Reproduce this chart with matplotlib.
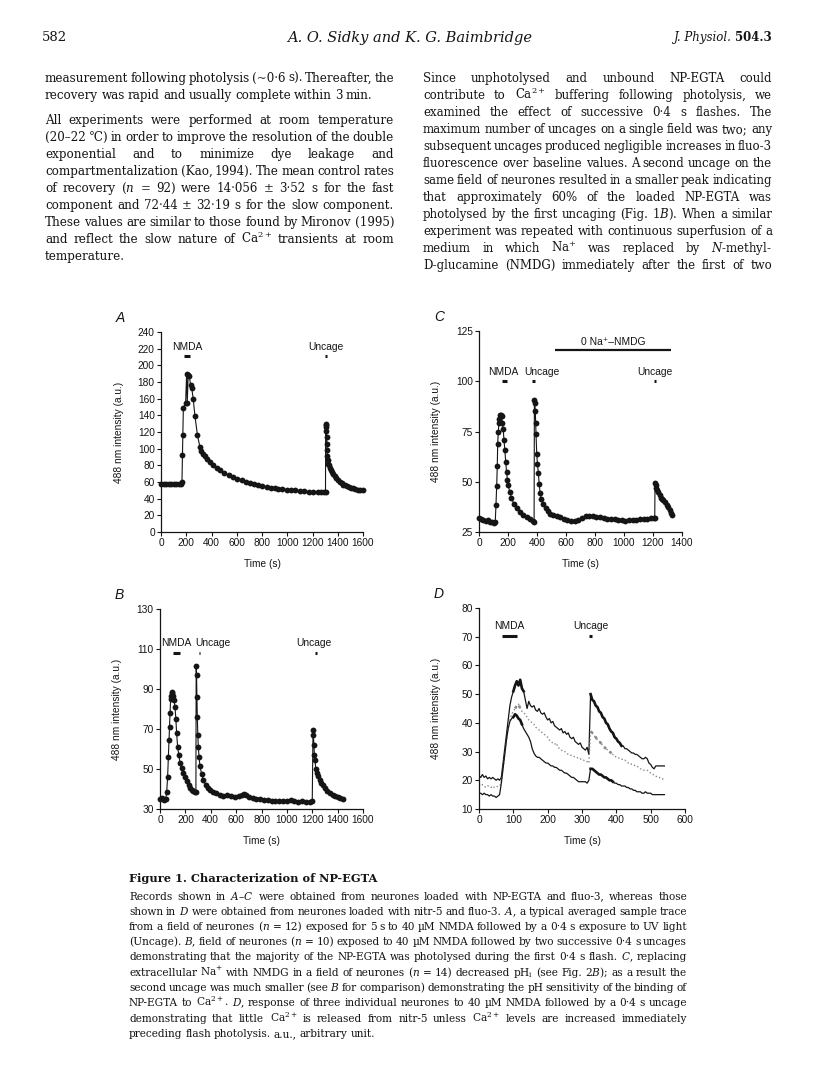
import matplotlib
matplotlib.use('Agg')
import matplotlib.pyplot as plt
import numpy as np

plt.rcParams['mathtext.fontset'] = 'dejavuserif'

W, H = 816, 1088
INK = '#151515'
SANS = ['Liberation Sans', 'DejaVu Sans']
SERIF = ['DejaVu Serif']

# ---- panel A: averaged trace, NP-EGTA ----
a_t = [0, 20, 40, 60, 80, 100, 120, 140, 155, 166, 170, 173, 177, 195, 203, 208, 215, 224,
       235, 243, 255, 269, 288, 308, 320, 335, 348, 361, 387, 414, 440, 466, 500, 536, 572,
       605, 638, 671, 704, 737, 770, 803, 836, 870, 900, 930, 960, 995, 1030, 1065, 1100,
       1135, 1170, 1205, 1240, 1270, 1295, 1303, 1304, 1306, 1308, 1310, 1312, 1314, 1316,
       1318, 1320, 1325, 1330, 1337, 1345, 1355, 1364, 1377, 1390, 1403, 1416, 1430, 1445,
       1460, 1475, 1490, 1505, 1522, 1540, 1560, 1580, 1598]
a_v = [58, 58, 58, 58, 58, 58, 58, 58, 58, 60, 93, 117, 149, 155, 190, 155, 188, 187,
       176, 173, 160, 139, 117, 102, 97, 94, 91, 88, 84, 80, 77, 75, 71, 68, 66,
       64, 62, 60.5, 59, 57.5, 56, 55, 54, 53, 52.5, 52, 51.5, 51, 50.5, 50, 49.5,
       49, 48.5, 48, 48, 48, 48, 48, 130, 129, 126, 121, 114, 106, 98,
       91, 86, 82, 80, 77, 75, 72.5, 70, 67, 65, 62, 60, 58.5, 57,
       56, 55, 54, 53, 52.4, 51.5, 51, 50.8, 50.5]

# ---- panel B: two successive uncages ----
b_t = [0, 15, 30, 45, 53, 60, 66, 71, 75, 79, 84, 88, 92, 97, 103, 110, 118, 125, 131, 139,
       148, 158, 170, 184, 197, 210, 225, 238, 250, 263, 276, 283, 285, 288, 291, 294, 298,
       302, 308, 315, 328, 341, 360, 378, 394, 420, 445, 473, 500, 530, 560, 590, 620, 645,
       660, 675, 700, 730, 760, 790, 820, 850, 880, 910, 940, 970, 1000, 1030, 1060, 1090,
       1120, 1150, 1180, 1200, 1206, 1209, 1213, 1217, 1221, 1228, 1236, 1247, 1258, 1272,
       1287, 1300, 1320, 1340, 1360, 1380, 1400, 1420, 1440]
b_v = [35, 35.5, 34.5, 35, 38.7, 46, 56, 64.5, 71, 78, 85, 86.5, 88.5, 88, 86.5, 84.5, 81, 75, 68, 61,
       57, 53, 50.5, 48, 46, 44, 42, 40.5, 39.5, 39, 38.5, 38.5, 101.5, 97, 86, 76, 67,
       61, 56, 51.3, 47.5, 44.6, 42, 40.5, 39.6, 38.5, 37.8, 37.2, 36.5, 37, 36.5, 36, 36.5, 37,
       37.5, 37, 36, 35.5, 35, 35, 34.5, 34.5, 34, 34, 34, 34, 34, 34.5, 34, 33.5,
       34, 33.5, 33.5, 34, 69.6, 67, 62, 57, 54.6, 50, 48, 46.3, 44.5, 43,
       42.1, 40.5, 39, 38, 37, 36.5, 36, 35.5, 35]

# ---- panel C: 0 Na+ (NMDG) ----
c_t = [0, 15, 30, 45, 60, 75, 90, 105, 112, 117, 122, 126, 129, 133, 137, 140, 145, 150, 156,
       161, 167, 172, 178, 184, 190, 196, 201, 212, 224, 240, 259, 280, 305, 330, 351, 374,
       380, 382, 385, 388, 391, 393, 398, 403, 409, 415, 421, 430, 444, 460, 475, 490, 510,
       535, 559, 585, 610, 635, 660, 685, 710, 735, 760, 785, 810, 835, 860, 885, 910, 935,
       960, 985, 1010, 1035, 1060, 1085, 1110, 1135, 1160, 1185, 1205, 1212, 1214, 1218,
       1224, 1230, 1237, 1245, 1255, 1265, 1272, 1283, 1295, 1305, 1318, 1325, 1330]
c_v = [32, 31.5, 31, 30.5, 31, 30, 30, 29.5, 30, 38.4, 48, 58, 69, 74.7, 79, 81, 83, 83, 82.5,
       79, 76, 71, 66, 60, 55, 51, 48.5, 45, 41.9, 39, 37, 35, 33.3, 32.3, 31.6, 30.7,
       30, 90.7, 89, 85, 79, 74, 64, 59, 54.5, 49, 44.5, 41.5, 39, 37, 35.5, 34, 33.3,
       32.8, 32.4, 31.5, 31, 30.5, 30.5, 31, 32, 33, 33.2, 33, 32.7, 32.3, 32, 31.7, 31.5, 31.3,
       31, 30.8, 30.7, 30.8, 31, 31.2, 31.3, 31.5, 31.6, 31.8, 32, 32, 49.5, 48.5,
       47, 46, 45, 43.5, 42, 41.3, 41, 40, 38.5, 37.5, 36, 34.5, 33.5]

# ---- panel D: three single neurones, nitr-5 (5 s samples, 0-540 s) ----
d_t = np.arange(0, 541, 5)
d_top = [21.5, 21, 22, 21, 21.5, 20.5, 21, 20.5, 21, 20.5, 20, 20.5, 20,
         21, 26, 31, 36, 41, 46, 49, 51, 53, 54.5, 53, 55, 52, 51, 48, 45, 47.5, 46, 45.5, 46,
         44.5, 44, 45, 43.5, 43, 43.5, 42, 41, 41.5, 40, 40.5, 39, 38.5, 38, 37.5, 38, 36.5, 37,
         36, 36.5, 35, 34.5, 35, 33.5, 33, 32.5, 33, 31.5, 31, 30.5, 31.5, 29,
         50, 48, 47.5, 46, 45.5, 44, 43.5, 42, 41.5, 40, 39.5, 38, 37, 36.5, 35, 34.5, 33.5, 33,
         32, 32, 31, 31, 30.5, 30, 29.5, 29.5, 29, 29, 28.5, 28, 27.5, 27.5, 28, 27.5, 26, 25.5,
         24.5, 24, 25, 25, 25, 25, 25, 25]
d_mid = [18.5, 18, 18.5, 18, 17.5, 18, 18, 17.5, 18, 17.5, 17.5, 18, 18,
         19, 24, 29, 34, 38, 41, 43, 44, 45, 46, 46.5, 45, 44, 43.5, 43, 42, 41, 40.5, 40, 39.5,
         38.5, 38, 37.5, 37, 36.5, 36, 35.5, 35, 34, 33.5, 33, 32.5, 33, 31.5, 31, 30.5, 30, 30,
         29.5, 29, 29, 28.5, 28.5, 28, 28, 27.5, 27.5, 27, 27, 26.5, 26.5, 26,
         37, 36.5, 35.5, 35, 34, 33.5, 33, 32, 31.5, 31, 30.5, 30, 29.5, 29, 28.5, 28, 28, 27.5,
         27.5, 27, 27, 26.5, 26, 26, 25.5, 25.5, 25, 25, 24.5, 24, 24, 23.5, 23.5, 23.5, 23, 22.5,
         22, 22, 21.5, 21, 21, 20.5, 20.5, 20]
d_low = [15.5, 15.5, 15, 15.5, 15, 15, 14.5, 15, 14.5, 14.5, 14, 14.5, 15,
         19, 24, 29, 34, 38, 40.5, 41.5, 42, 43, 42.5, 41.5, 41, 39.5, 38, 37, 36, 35, 33.5, 31, 29.5,
         28.5, 28, 28, 27.5, 27, 26.5, 26, 26, 25.5, 25, 25, 24.5, 24.5, 24, 23.5, 23.5, 23, 22.5,
         22.5, 22, 21.5, 21, 21, 20.5, 20, 19.5, 19.5, 19.5, 19.5, 19.5, 19, 20,
         24, 24, 23.5, 23, 22.5, 22, 22, 21.5, 21, 21, 20.5, 20, 20, 19.5, 19, 19, 18.5, 18.5,
         18, 18, 18, 17.5, 17.5, 17, 17, 16.5, 16.5, 16, 16, 16, 15.5, 15.5, 16, 15.5, 15.5, 15.5,
         15, 15, 15, 15, 15, 15, 15, 15]
d_thick = [(0, 100, 130), (0, 325, 415), (1, 105, 125), (1, 325, 390), (2, 100, 125), (2, 325, 390)]

fig = plt.figure(figsize=(W / 100, H / 100), dpi=100)
fig.patch.set_facecolor('white')
renderer = fig.canvas.get_renderer()


def fx(x):
    return x / W


def fy(y):
    return 1 - y / H


def word_widths(words, size):
    objs = [fig.text(0, 0, w, fontsize=size, va='baseline', ha='left', color=INK,
                     family=SERIF) for w in words]
    widths = [o.get_window_extent(renderer).width for o in objs]
    return objs, widths


def text_block(lines, x0, x1, size_max):
    """justified block: one font size for the block, words spread to fill x0..x1"""
    size = size_max
    for txt, just, _ in lines:
        if not just:
            continue
        words = txt.split(' ')
        objs, widths = word_widths(words, size_max)
        for o in objs:
            o.remove()
        need = sum(widths) + (len(words) - 1) * size_max * 100 / 72 * 0.2
        size = min(size, size_max * (x1 - x0) / need)
    for txt, just, y in lines:
        words = txt.split(' ')
        objs, widths = word_widths(words, size)
        gap = size * 100 / 72 * 0.27
        if just and len(words) > 1:
            gap = (x1 - x0 - sum(widths)) / (len(words) - 1)
        x = x0
        for o, w in zip(objs, widths):
            o.set_position((fx(x), fy(y)))
            x += w + gap


# ---- page header ----
fig.text(fx(42), fy(41), '582', fontsize=9.5, color=INK, family=SERIF, va='baseline')
fig.text(fx(410), fy(42), 'A. O. Sidky and K. G. Baimbridge', fontsize=10.5, color=INK,
         family=SERIF, style='italic', ha='center', va='baseline')
t_vol = fig.text(fx(772), fy(41), '504.3', fontsize=8.5, color=INK, family=SERIF,
                 weight='bold', ha='right', va='baseline')
wv = t_vol.get_window_extent(renderer).width
fig.text(fx(772 - wv - 3), fy(41), 'J. Physiol.', fontsize=8.5, color=INK, family=SERIF,
         style='italic', ha='right', va='baseline')

# ---- body text ----
left_col = [
    ('measurement following photolysis (~0·6 s). Thereafter, the', True, 78),
    ('recovery was rapid and usually complete within 3 min.', False, 95),
    ('All experiments were performed at room temperature', True, 120),
    ('(20–22 °C) in order to improve the resolution of the double', True, 137),
    ('exponential and to minimize dye leakage and', True, 154),
    ('compartmentalization (Kao, 1994). The mean control rates', True, 171),
    (r'of recovery ($\mathit{n}$ = 92) were 14·056 ± 3·52 s for the fast', True, 188),
    ('component and 72·44 ± 32·19 s for the slow component.', True, 205),
    ('These values are similar to those found by Mironov (1995)', True, 222),
    (r'and reflect the slow nature of Ca$^{2+}$ transients at room', True, 239),
    ('temperature.', False, 256),
]
right_col = [
    ('Since unphotolysed and unbound NP-EGTA could', True, 78),
    (r'contribute to Ca$^{2+}$ buffering following photolysis, we', True, 95),
    ('examined the effect of successive 0·4 s flashes. The', True, 112),
    ('maximum number of uncages on a single field was two; any', True, 129),
    ('subsequent uncages produced negligible increases in fluo-3', True, 146),
    ('fluorescence over baseline values. A second uncage on the', True, 163),
    ('same field of neurones resulted in a smaller peak indicating', True, 180),
    ('that approximately 60% of the loaded NP-EGTA was', True, 197),
    (r'photolysed by the first uncaging (Fig. 1$\mathit{B}$). When a similar', True, 214),
    ('experiment was repeated with continuous superfusion of a', True, 231),
    (r'medium in which Na$^{+}$ was replaced by $\mathit{N}$-methyl-', True, 248),
    ('D-glucamine (NMDG) immediately after the first of two', True, 265),
]
body = [(t, j, y + 4) for t, j, y in left_col]
text_block(body, 45, 394, 8.6)
body = [(t, j, y + 4) for t, j, y in right_col]
text_block(body, 423, 772, 8.6)

# ---- caption ----
fig.text(fx(129), fy(882), 'Figure 1. Characterization of NP-EGTA', fontsize=8.2,
         weight='bold', color=INK, family=SERIF, va='baseline')
caption = [
    (r'Records shown in $\mathit{A}$–$\mathit{C}$ were obtained from neurones loaded with NP-EGTA and fluo-3, whereas those', True),
    (r'shown in $\mathit{D}$ were obtained from neurones loaded with nitr-5 and fluo-3. $\mathit{A}$, a typical averaged sample trace', True),
    (r'from a field of neurones ($\mathit{n}$ = 12) exposed for 5 s to 40 µM NMDA followed by a 0·4 s exposure to UV light', True),
    (r'(Uncage). $\mathit{B}$, field of neurones ($\mathit{n}$ = 10) exposed to 40 µM NMDA followed by two successive 0·4 s uncages', True),
    (r'demonstrating that the majority of the NP-EGTA was photolysed during the first 0·4 s flash. $\mathit{C}$, replacing', True),
    (r'extracellular Na$^{+}$ with NMDG in a field of neurones ($\mathit{n}$ = 14) decreased pH$_\mathrm{i}$ (see Fig. 2$\mathit{B}$); as a result the', True),
    (r'second uncage was much smaller (see $\mathit{B}$ for comparison) demonstrating the pH sensitivity of the binding of', True),
    (r'NP-EGTA to Ca$^{2+}$. $\mathit{D}$, response of three individual neurones to 40 µM NMDA followed by a 0·4 s uncage', True),
    (r'demonstrating that little Ca$^{2+}$ is released from nitr-5 unless Ca$^{2+}$ levels are increased immediately', True),
    ('preceding flash photolysis. a.u., arbitrary unit.', False),
]
cap = [(t, j, 899.5 + i * 15.25) for i, (t, j) in enumerate(caption)]
text_block(cap, 129, 687, 7.6)


# ---- chart panels ----
def make_ax(l, b, w, h, xlim, ylim, xticks, yticks, letter):
    ax = fig.add_axes([fx(l), fy(b), w / W, h / H])
    ax.set_xlim(*xlim)
    ax.set_ylim(*ylim)
    ax.set_xticks(xticks)
    ax.set_yticks(yticks)
    for s in ('top', 'right'):
        ax.spines[s].set_visible(False)
    for s in ('left', 'bottom'):
        ax.spines[s].set_linewidth(0.9)
        ax.spines[s].set_color(INK)
    ax.tick_params(direction='out', length=3, width=0.8, pad=1.5, labelsize=7.3,
                   colors=INK)
    for lab in ax.get_xticklabels() + ax.get_yticklabels():
        lab.set_family(SANS)
    ax.set_xlabel('Time (s)', fontsize=7.3, family=SANS, color=INK)
    ax.set_ylabel('488 nm intensity (a.u.)', fontsize=7.3, family=SANS, color=INK)
    ax.xaxis.set_label_coords(0.5, -0.135)
    ax.yaxis.set_label_coords(-0.185, 0.5)
    ax.patch.set_alpha(0)
    fig.text(fx(l - 45), fy(b - h - 14), letter, fontsize=10, style='italic',
             family=SANS, color=INK, va='center')
    return ax


def events(ax, labels, bars):
    for txt, x, y in labels:
        ax.text(x, y, txt, ha='center', va='center', fontsize=7.4, family=SANS, color=INK)
    for x0, x1, y in bars:
        ax.hlines(y, x0, x1, lw=2.2, color=INK)


def dots(ax, t, v):
    ax.plot(t, v, '-o', color=INK, lw=0.8, ms=4.2, mew=0, clip_on=False)


axA = make_ax(161, 532, 202, 200, (0, 1600), (0, 240), np.arange(0, 1601, 200),
              np.arange(0, 241, 20), 'A')
dots(axA, a_t, a_v)
events(axA, [('NMDA', 210, 222), ('Uncage', 1306, 222)],
       [(182, 229, 211.5), (1298, 1314, 211.5)])

axC = make_ax(479, 532, 203, 201, (0, 1400), (25, 125), np.arange(0, 1401, 200),
              np.arange(25, 126, 25), 'C')
dots(axC, c_t, c_v)
events(axC, [('NMDA', 168, 104.7), ('Uncage', 431, 104.7), ('Uncage', 1212, 104.7)],
       [(156, 191, 100.3), (368, 384, 100.3), (1206, 1222, 100.3)])
axC.hlines(115.5, 524, 1322, lw=1.6, color=INK)
axC.text(923, 119.7, '0 Na⁺–NMDG', ha='center', va='center', fontsize=7.4,
         family=SANS, color=INK)

axB = make_ax(160, 809, 203, 200, (0, 1600), (30, 130), np.arange(0, 1601, 200),
              np.arange(30, 131, 20), 'B')
dots(axB, b_t, b_v)
events(axB, [('NMDA', 131, 113.2), ('Uncage', 420, 113.2), ('Uncage', 1216, 113.2)],
       [(105, 158, 108.2), (304, 318, 108.2), (1224, 1238, 108.2)])

axD = make_ax(479, 809, 206, 201, (0, 600), (10, 80), np.arange(0, 601, 100),
              np.arange(10, 81, 10), 'D')
traces = [d_top, d_mid, d_low]
styles = [dict(color=INK, lw=0.9, ls='-'), dict(color='#8a8a8a', lw=1.0, ls=':'),
          dict(color=INK, lw=0.9, ls='-')]
for tr, st in zip(traces, styles):
    axD.plot(d_t, tr, **st)
d_arr = [np.array(tr) for tr in traces]
for k, t0, t1 in d_thick:
    m = (d_t >= t0) & (d_t <= t1)
    axD.plot(d_t[m], d_arr[k][m], color=styles[k]['color'], lw=1.9,
             ls=styles[k]['ls'])
events(axD, [('NMDA', 88, 73.6), ('Uncage', 325, 73.6)], [(66, 110, 70.1), (320, 328, 70.1)])

fig.savefig('out.png', dpi=100, facecolor='white')
